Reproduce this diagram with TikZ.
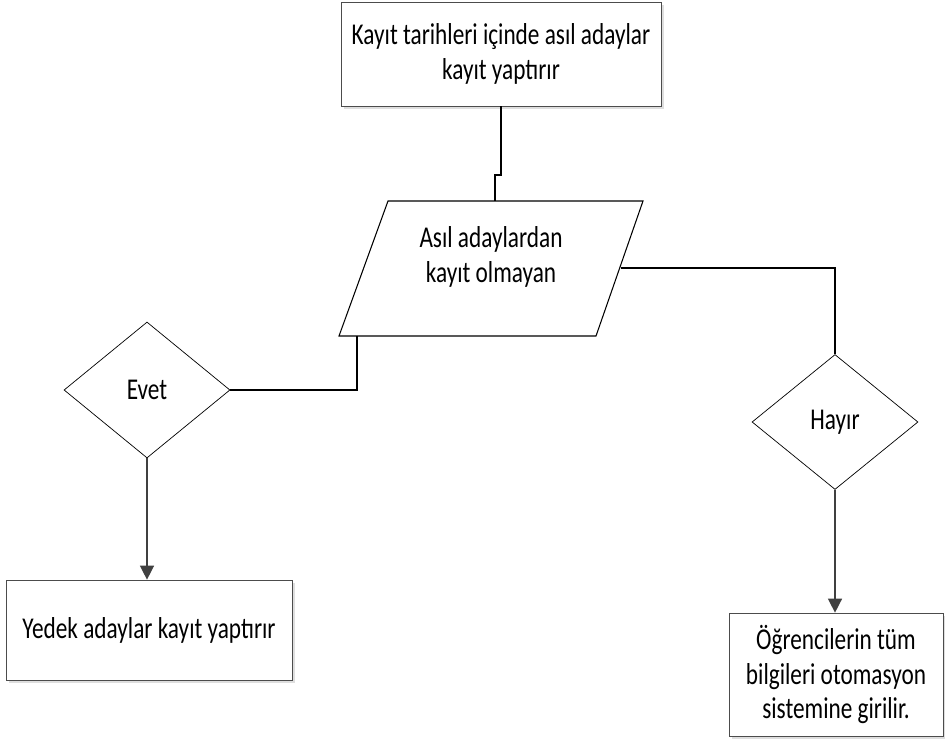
\documentclass[tikz,border=0pt]{standalone}
\usepackage{fontspec}
\setmainfont{Carlito}[FakeStretch=0.77]
\usetikzlibrary{arrows.meta,% filled arrow heads
shapes.geometric,%            diamonds
shadows}%                     light shadow under the boxes
\tikzset{every node/.style={font=\fontsize{17.2}{19.8}\selectfont,align=center}}
\tikzset{
  procBox/.style={draw=black!70,fill=white,rectangle,inner sep=0pt,
    drop shadow={shadow xshift=1.6pt,shadow yshift=-1.6pt,fill=black!13,opacity=1}},
  decisionBox/.style={draw,diamond,fill=white,inner sep=0pt,
    minimum width=3.32cm,minimum height=2.72cm},
  flowLine/.style={line width=0.6pt},
  flowArrow/.style={draw=black!75,line width=0.8pt,-{Triangle[length=8pt,width=8pt]}}
}

\begin{document}
\begin{tikzpicture}[x=0.02cm,y=-0.02cm]
\useasboundingbox (0,0) rectangle (945,742);

% boxes
\node[procBox,minimum width=6.4cm,minimum height=2.08cm] (kayit) at (501,54)
  {Kayıt tarihleri içinde asıl adaylar\\kayıt yaptırır};

% slanted data box
\coordinate (asilNW) at (388,201);
\coordinate (asilNE) at (643,201);
\coordinate (asilSE) at (596,336);
\coordinate (asilSW) at (339,336);
\draw[flowLine] (asilNW) -- (asilNE) -- (asilSE) -- (asilSW) -- cycle;
\node (asil) at (491,257) {Asıl adaylardan\\kayıt olmayan};
\coordinate (asilIn) at (495,201);
\coordinate (asilRight) at (620.5,268);
\coordinate (asilOut) at (357,336);

\node[decisionBox] (evet) at (147,390) {Evet};
\node[decisionBox,minimum height=2.7cm] (hayir) at (835,422) {Hayır};
\node[procBox,minimum width=5.72cm,minimum height=2cm] (yedek) at (149,630)
  {Yedek adaylar kayıt yaptırır};
\node[procBox,minimum width=4.28cm,minimum height=2.46cm] (sistem) at (836,674.5)
  {Öğrencilerin tüm\\bilgileri otomasyon\\sistemine girilir.};

% connectors
\begin{scope}[flowLine]
\draw (kayit.south) |- (495,175) -- (asilIn);
\draw (asilRight) -| (hayir.north);
\draw (evet.east) -| (asilOut);
\end{scope}
\draw[flowArrow] (evet.south) -- (evet.south |- yedek.north);
\draw[flowArrow] (hayir.south) -- (hayir.south |- sistem.north);
\end{tikzpicture}
\end{document}
